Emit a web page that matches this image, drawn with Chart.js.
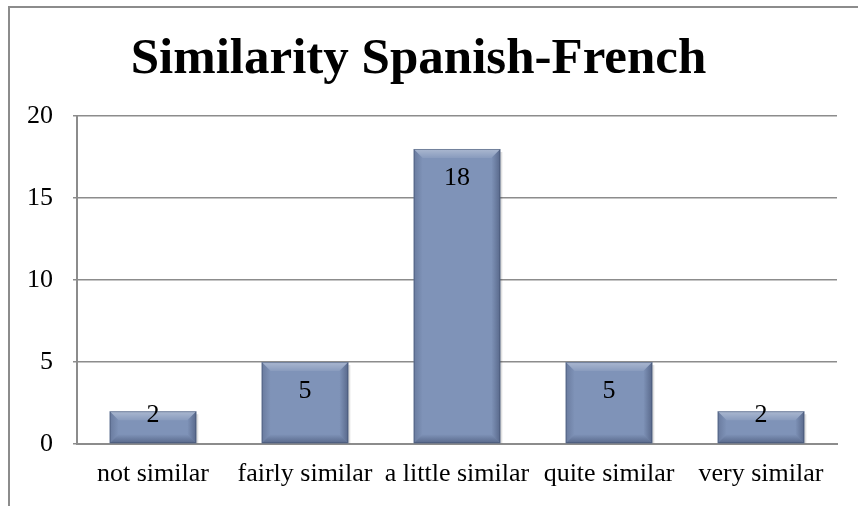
<!DOCTYPE html>
<html>
<head>
<meta charset="utf-8">
<script src="https://cdn.jsdelivr.net/npm/chart.js@4"></script>
<style>
  body { margin: 0; background: #fff; }
  #wrap { width: 858px; height: 506px; position: relative; }
</style>
</head>
<body>
<div id="wrap"><canvas id="grafico" width="858" height="506"></canvas></div>
<script>
const categorias = ['not similar', 'fairly similar', 'a little similar', 'quite similar', 'very similar'];
const valores = [2, 5, 18, 5, 2];
const tituloGrafico = 'Similarity Spanish-French';

const fonte = "'Liberation Serif', 'Times New Roman', serif";

// frame around the chart (only top and left visible in the original)
const moldura = {
  id: 'moldura',
  beforeDraw(chart) {
    const ctx = chart.ctx;
    ctx.save();
    ctx.fillStyle = '#fff';
    ctx.fillRect(0, 0, chart.width, chart.height);
    ctx.strokeStyle = '#8c8c8c';
    ctx.lineWidth = 2;
    ctx.beginPath();
    ctx.moveTo(9, chart.height);
    ctx.lineTo(9, 7);
    ctx.lineTo(chart.width, 7);
    ctx.stroke();
    ctx.restore();
  }
};

// bevel look + value labels on the bars
const chanfro = {
  id: 'chanfro',
  afterDatasetsDraw(chart) {
    const ctx = chart.ctx;
    const meta = chart.getDatasetMeta(0);
    meta.data.forEach((bar, i) => {
      const l = bar.x - bar.width / 2, r = bar.x + bar.width / 2;
      const t = bar.y, b = bar.base;
      const h = b - t;
      const e = Math.min(9, h / 3);
      ctx.save();
      // top bevel
      let g = ctx.createLinearGradient(0, t, 0, t + e);
      g.addColorStop(0, 'rgba(255,255,255,0.35)');
      g.addColorStop(1, 'rgba(255,255,255,0.08)');
      ctx.fillStyle = g;
      ctx.beginPath();
      ctx.moveTo(l, t); ctx.lineTo(r, t); ctx.lineTo(r - e, t + e); ctx.lineTo(l + e, t + e); ctx.closePath();
      ctx.fill();
      // left side
      g = ctx.createLinearGradient(l, 0, l + e, 0);
      g.addColorStop(0, 'rgba(40,50,80,0.25)');
      g.addColorStop(1, 'rgba(40,50,80,0.0)');
      ctx.fillStyle = g;
      ctx.beginPath();
      ctx.moveTo(l, t); ctx.lineTo(l + e, t + e); ctx.lineTo(l + e, b - e); ctx.lineTo(l, b); ctx.closePath();
      ctx.fill();
      // right side
      g = ctx.createLinearGradient(r, 0, r - e, 0);
      g.addColorStop(0, 'rgba(30,40,70,0.40)');
      g.addColorStop(1, 'rgba(30,40,70,0.0)');
      ctx.fillStyle = g;
      ctx.beginPath();
      ctx.moveTo(r, t); ctx.lineTo(r - e, t + e); ctx.lineTo(r - e, b - e); ctx.lineTo(r, b); ctx.closePath();
      ctx.fill();
      // bottom
      g = ctx.createLinearGradient(0, b, 0, b - e);
      g.addColorStop(0, 'rgba(30,40,70,0.40)');
      g.addColorStop(1, 'rgba(30,40,70,0.0)');
      ctx.fillStyle = g;
      ctx.beginPath();
      ctx.moveTo(l, b); ctx.lineTo(l + e, b - e); ctx.lineTo(r - e, b - e); ctx.lineTo(r, b); ctx.closePath();
      ctx.fill();
      // thin outline
      ctx.strokeStyle = 'rgba(60,75,105,0.5)';
      ctx.lineWidth = 1;
      ctx.strokeRect(l + 0.5, t + 0.5, bar.width - 1, h - 1);
      // shadow on the right
      ctx.fillStyle = 'rgba(0,0,0,0.12)';
      ctx.fillRect(r, t + 3, 2, h - 3);
      ctx.restore();

      // value label
      const desloc = h > 60 ? 29 : 4;
      ctx.save();
      ctx.fillStyle = '#000';
      ctx.font = '26px ' + fonte;
      ctx.textAlign = 'center';
      ctx.textBaseline = 'middle';
      ctx.fillText(String(valores[i]), bar.x, t + desloc);
      ctx.restore();
    });
  }
};

const ctx = document.getElementById('grafico').getContext('2d');
const grafico = new Chart(ctx, {
  type: 'bar',
  data: {
    labels: categorias,
    datasets: [{
      data: valores,
      backgroundColor: '#7f93b8',
      borderWidth: 0,
      categoryPercentage: 1,
      barPercentage: 0.57
    }]
  },
  options: {
    responsive: false,
    animation: false,
    layout: { padding: { left: 0, right: 21, top: 0, bottom: 0 } },
    plugins: {
      legend: { display: false },
      tooltip: { enabled: false },
      title: {
        display: true,
        text: tituloGrafico,
        color: '#000',
        font: { family: fonte, size: 51, weight: 'bold', lineHeight: 1.2 },
        padding: { top: 29, bottom: 26 }
      }
    },
    scales: {
      x: {
        grid: { display: false, drawTicks: false },
        border: { display: true, color: '#8c8c8c', width: 2 },
        ticks: { color: '#000', font: { family: fonte, size: 26 }, padding: 15, maxRotation: 0, autoSkip: false },
        afterFit(scale) { scale.height = 62; }
      },
      y: {
        min: 0,
        max: 20,
        ticks: { stepSize: 5, color: '#000', font: { family: fonte, size: 26 }, padding: 20 },
        grid: { color: '#8c8c8c', lineWidth: 1.5, tickLength: 4 },
        border: { display: true, color: '#8c8c8c', width: 2 },
        afterFit(scale) { scale.width = 77; }
      }
    }
  },
  plugins: [moldura, chanfro]
});
</script>
</body>
</html>
